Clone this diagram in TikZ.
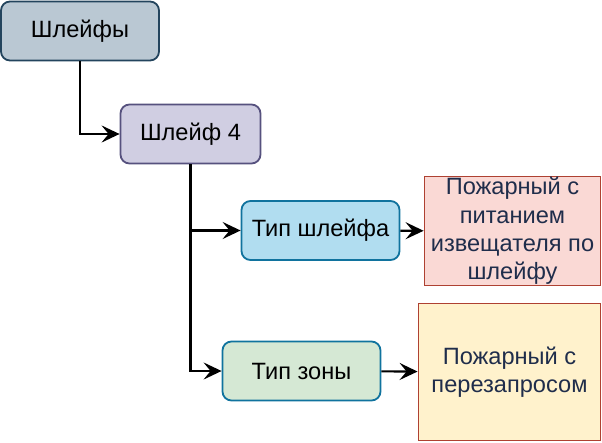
\documentclass[tikz,border=0pt]{standalone}
\usepackage{fontspec}
\setmainfont{Liberation Sans}
\usetikzlibrary{arrows.meta}
\definecolor{grayfill}{HTML}{BAC8D3}
\definecolor{graydraw}{HTML}{23445D}
\definecolor{purfill}{HTML}{D0CEE2}
\definecolor{purdraw}{HTML}{56517E}
\definecolor{bluefill}{HTML}{B1DDF0}
\definecolor{bluedraw}{HTML}{10739E}
\definecolor{greenfill}{HTML}{D5E8D4}
\definecolor{redfill}{HTML}{FAD9D5}
\definecolor{reddraw}{HTML}{AE4132}
\definecolor{yelfill}{HTML}{FFF2CC}
\definecolor{navytext}{HTML}{1F2D4B}
\begin{document}
\begin{tikzpicture}[x=1pt,y=-1pt,
    every node/.style={draw, align=center, inner sep=0pt, line width=1.8pt,
      font=\fontsize{23.6}{28.3}\selectfont},
    rbox/.style={rounded corners=9pt, minimum width=158pt, minimum height=59pt},
    sbox/.style={text=navytext, draw=reddraw},
    link/.style={line width=2.1pt, -{Stealth[length=18pt,width=17pt,inset=7pt]}}]
  \useasboundingbox (0,0) rectangle (602,442);
  \node[rbox, fill=grayfill, draw=graydraw] (loops) at (80,31) {Шлейфы};
  \node[rbox, fill=purfill, draw=purdraw, minimum width=140pt] (loop4) at (190.5,134) {Шлейф 4};
  \node[rbox, fill=bluefill, draw=bluedraw] (looptype) at (320.5,230.5) {Тип шлейфа};
  \node[rbox, fill=greenfill, draw=bluedraw] (zonetype) at (301.5,371) {Тип зоны};
  \node[sbox, fill=redfill, minimum width=176pt, minimum height=109pt] (powered) at (512.5,231)
    {Пожарный с\\питанием\\извещателя по\\шлейфу};
  \node[sbox, fill=yelfill, minimum width=182pt, minimum height=137pt] (requery) at (509.5,372)
    {Пожарный с\\перезапросом};
  % connectors
  \draw[link] (loops.south) |- (loop4.west);
  \draw[link] (loop4.south) |- (looptype.west);
  \draw[link] (loop4.south) |- (zonetype.west);
  \draw[link] (looptype) -- (powered);
  \draw[link] (zonetype) -- (requery);
\end{tikzpicture}
\end{document}
